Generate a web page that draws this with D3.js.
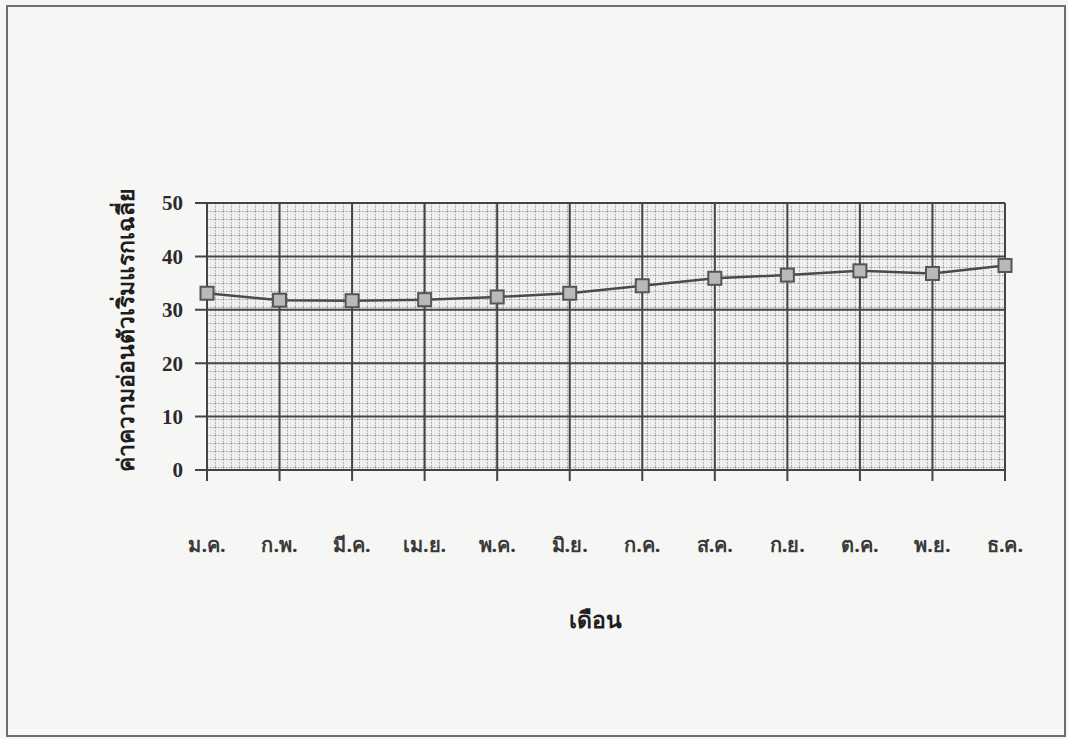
<!DOCTYPE html>
<html>
<head>
<meta charset="utf-8">
<script src="https://cdn.jsdelivr.net/npm/d3@7"></script>
<style>
  html, body { margin: 0; padding: 0; background: #f6f6f4; }
  svg { display: block; }
</style>
</head>
<body>
<svg id="chart" width="1068" height="739"></svg>
<script>
// Monthly averages (Thai month abbreviations)
const months = ["ม.ค.", "ก.พ.", "มี.ค.", "เม.ย.", "พ.ค.", "มิ.ย.", "ก.ค.", "ส.ค.", "ก.ย.", "ต.ค.", "พ.ย.", "ธ.ค."];
const values = [33.1, 31.8, 31.7, 31.9, 32.4, 33.1, 34.5, 35.9, 36.5, 37.3, 36.8, 38.3];
const yTicks = [0, 10, 20, 30, 40, 50];
const yTitle = "ค่าความอ่อนตัวเริ่มแรกเฉลี่ย";
const xTitle = "เดือน";

const svg = d3.select("#chart");
const W = 1068, H = 739;
const plotL = 207, plotR = 1005, plotT = 203, plotB = 470;

// page frame
svg.append("rect").attr("x", 0).attr("y", 0).attr("width", W).attr("height", H).attr("fill", "#f6f6f4");
svg.append("rect").attr("x", 7).attr("y", 6).attr("width", 1058).attr("height", 730)
  .attr("fill", "none").attr("stroke", "#6e6e6e").attr("stroke-width", 2);

const x = d3.scalePoint().domain(months).range([plotL, plotR]);
const y = d3.scaleLinear().domain([0, 50]).range([plotB, plotT]);

// fine graph-paper background of the plot area
const defs = svg.append("defs");
const pat = defs.append("pattern").attr("id", "paper")
  .attr("patternUnits", "userSpaceOnUse").attr("width", 8).attr("height", 8)
  .attr("x", plotL).attr("y", plotT);
pat.append("rect").attr("width", 8).attr("height", 8).attr("fill", "#efefef");
pat.append("line").attr("x1", 0).attr("y1", 0.5).attr("x2", 8).attr("y2", 0.5)
  .attr("stroke", "#9c9c9c").attr("stroke-width", 1).attr("stroke-dasharray", "1.5,1.5");
pat.append("line").attr("x1", 0.5).attr("y1", 0).attr("x2", 0.5).attr("y2", 8)
  .attr("stroke", "#9c9c9c").attr("stroke-width", 1).attr("stroke-dasharray", "1.5,1.5");

svg.append("rect").attr("x", plotL).attr("y", plotT)
  .attr("width", plotR - plotL).attr("height", plotB - plotT)
  .attr("fill", "url(#paper)");

// major horizontal gridlines with outward ticks
svg.append("g").selectAll("line").data(yTicks).join("line")
  .attr("x1", plotL - 12).attr("x2", plotR)
  .attr("y1", d => y(d)).attr("y2", d => y(d))
  .attr("stroke", "#444").attr("stroke-width", 2);

// major vertical gridlines at each month, extending below the axis
svg.append("g").selectAll("line").data(months).join("line")
  .attr("x1", d => x(d)).attr("x2", d => x(d))
  .attr("y1", plotT).attr("y2", plotB + 11)
  .attr("stroke", "#444").attr("stroke-width", 2);

// y tick labels
svg.append("g").selectAll("text").data(yTicks).join("text")
  .attr("x", 183).attr("y", d => y(d)).attr("dy", "0.35em")
  .attr("text-anchor", "end")
  .attr("font-family", "Liberation Serif, Times New Roman, serif")
  .attr("font-weight", "bold").attr("font-size", 21).attr("fill", "#2a2a2a")
  .text(d => d);

// x tick labels
svg.append("g").selectAll("text").data(months).join("text")
  .attr("x", d => x(d)).attr("y", 545).attr("dy", "0.35em")
  .attr("text-anchor", "middle")
  .attr("font-family", "Noto Sans, DejaVu Sans, sans-serif")
  .attr("font-weight", "bold").attr("font-size", 20).attr("fill", "#3a3a3a")
  .text(d => d);

// axis titles
svg.append("text")
  .attr("transform", "translate(126,330) rotate(-90)")
  .attr("text-anchor", "middle").attr("dy", "0.35em")
  .attr("font-family", "Noto Sans, DejaVu Sans, sans-serif")
  .attr("font-weight", "bold").attr("font-size", 23).attr("fill", "#1e1e1e")
  .text(yTitle);

svg.append("text")
  .attr("x", 595).attr("y", 620).attr("dy", "0.35em")
  .attr("text-anchor", "middle")
  .attr("font-family", "Noto Sans, DejaVu Sans, sans-serif")
  .attr("font-weight", "bold").attr("font-size", 23).attr("fill", "#1e1e1e")
  .text(xTitle);

// series line
const line = d3.line().x((d, i) => x(months[i])).y(d => y(d));
svg.append("path").datum(values)
  .attr("d", line).attr("fill", "none")
  .attr("stroke", "#4a4a4a").attr("stroke-width", 2.5);

// square markers
const s = 13;
svg.append("g").selectAll("rect").data(values).join("rect")
  .attr("x", (d, i) => x(months[i]) - s / 2)
  .attr("y", d => y(d) - s / 2)
  .attr("width", s).attr("height", s)
  .attr("fill", "#b9b9b9").attr("stroke", "#555").attr("stroke-width", 2);
</script>
</body>
</html>
